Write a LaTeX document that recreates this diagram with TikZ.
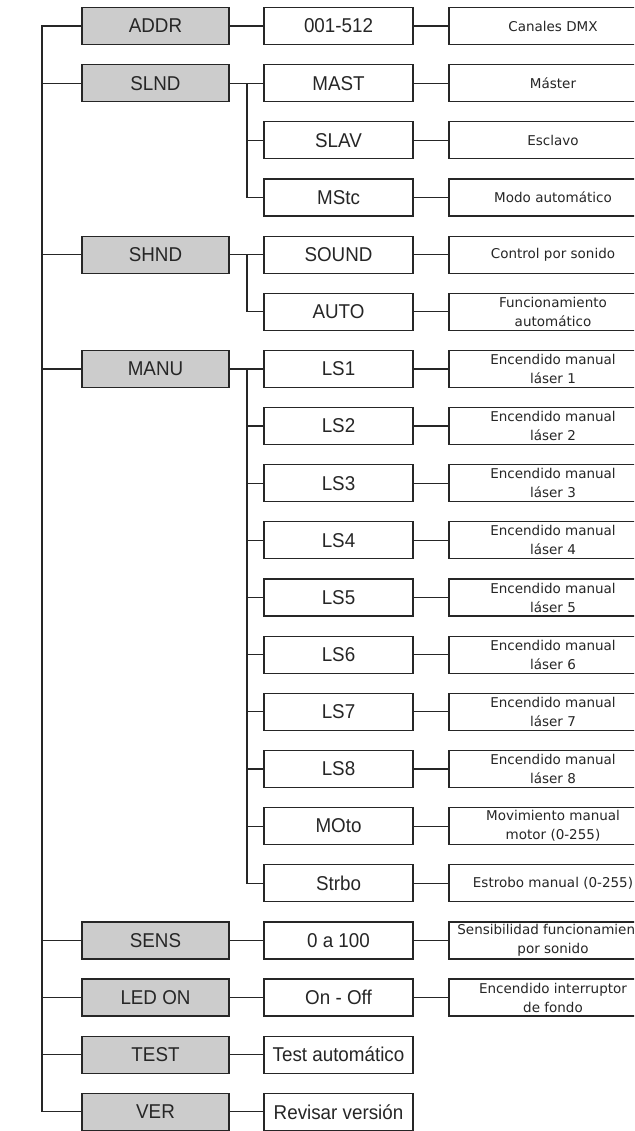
\documentclass[tikz,border=0pt]{standalone}
\usepackage{fontspec}
\setmainfont{Liberation Sans}[FakeStretch=0.94]
\newfontfamily\descfont{DejaVu Sans}
\usetikzlibrary{positioning}
\definecolor{menugray}{HTML}{CCCCCC}
\definecolor{linecol}{HTML}{262626}
\tikzset{
	menu/.style={draw=linecol,fill=menugray,minimum width=147pt,minimum height=37pt,inner sep=0pt,font=\fontsize{20}{24}\selectfont},
	opt/.style={draw=linecol,fill=white,minimum width=149pt,minimum height=37pt,inner sep=0pt,font=\fontsize{20}{24}\selectfont},
	desc/.style={draw=linecol,fill=white,minimum width=208pt,minimum height=37pt,inner sep=0pt,align=center,font=\descfont\fontsize{13.5}{19}\selectfont}
}

\begin{document}
\begin{tikzpicture}[x=1pt,y=-57.15pt,line width=1.2pt,color=linecol]
			\useasboundingbox (0,-0.455) rectangle (634,19.335);
			\clip (0,-0.455) rectangle (634,19.335);
			\coordinate (trunk) at (42,0);
			\coordinate (slndj) at (247,1);
			\coordinate (shndj) at (247,4);
			\coordinate (manuj) at (247,6);
			
			\node[menu] (addr) at (155.5,0) {ADDR};
			\node[menu] (slnd) at (155.5,1) {SLND};
			\node[menu] (shnd) at (155.5,4) {SHND};
			\node[menu] (manu) at (155.5,6) {MANU};
			\node[menu] (sens) at (155.5,16) {SENS};
			\node[menu] (led) at (155.5,17) {LED ON};
			\node[menu] (test) at (155.5,18) {TEST};
			\node[menu] (ver) at (155.5,19) {VER};
			
			\node[opt] (dmx) at (338.5,0) {001-512};
			\node[opt] (mast) at (338.5,1) {MAST};
			\node[opt] (slav) at (338.5,2) {SLAV};
			\node[opt] (mstc) at (338.5,3) {MStc};
			\node[opt] (sound) at (338.5,4) {SOUND};
			\node[opt] (auto) at (338.5,5) {AUTO};
			\node[opt] (ls1) at (338.5,6) {LS1};
			\node[opt] (moto) at (338.5,14) {MOto};
			\node[opt] (strbo) at (338.5,15) {Strbo};
			\node[opt] (sensv) at (338.5,16) {0 a 100};
			\node[opt] (onoff) at (338.5,17) {On - Off};
			\node[opt] (testv) at (338.5,18) {Test automático};
			\node[opt] (verv) at (338.5,19) {Revisar versión};
			
			\node[desc] (dmxd) at (553,0) {Canales DMX};
			\node[desc] (mastd) at (553,1) {Máster};
			\node[desc] (slavd) at (553,2) {Esclavo};
			\node[desc] (mstcd) at (553,3) {Modo automático};
			\node[desc] (soundd) at (553,4) {Control por sonido};
			\node[desc] (autod) at (553,5) {Funcionamiento\\automático};
			\node[desc] (ls1d) at (553,6) {Encendido manual\\láser 1};
			\node[desc] (motod) at (553,14) {Movimiento manual\\motor (0-255)};
			\node[desc] (strbod) at (553,15) {Estrobo manual (0-255)};
			\node[desc] (sensd) at (553,16) {Sensibilidad funcionamiento\\por sonido};
			\node[desc] (onoffd) at (553,17) {Encendido interruptor\\de fondo};
			
			\foreach \n in {2,...,8} {
				\node[opt] (ls\n) at (338.5,\n+5) {LS\n};
				\node[desc] (ls\n d) at (553,\n+5) {Encendido manual\\láser \n};
				\draw (ls\n) -- (ls\n d);
				\draw (manuj) |- (ls\n);
			}
			
			% main trunk
			\draw (addr) -- (trunk) |- (ver);
			\foreach \m in {slnd,shnd,manu,sens,led,test} \draw (\m) -- (\m -| trunk);
			
			\draw (addr) -- (dmx);
			\draw (slnd) -- (mast);
			\draw (slndj) |- (slav);
			\draw (slndj) |- (mstc);
			\draw (shnd) -- (sound);
			\draw (shndj) |- (auto);
			\draw (manu) -- (ls1);
			\draw (manuj) |- (moto);
			\draw (manuj) |- (strbo);
			\draw (sens) -- (sensv);
			\draw (led) -- (onoff);
			\draw (test) -- (testv);
			\draw (ver) -- (verv);
			
			\draw (dmx) -- (dmxd);
			\draw (mast) -- (mastd);
			\draw (slav) -- (slavd);
			\draw (mstc) -- (mstcd);
			\draw (sound) -- (soundd);
			\draw (auto) -- (autod);
			\draw (ls1) -- (ls1d);
			\draw (moto) -- (motod);
			\draw (strbo) -- (strbod);
			\draw (sensv) -- (sensd);
			\draw (onoff) -- (onoffd);
		\end{tikzpicture}
\end{document}
